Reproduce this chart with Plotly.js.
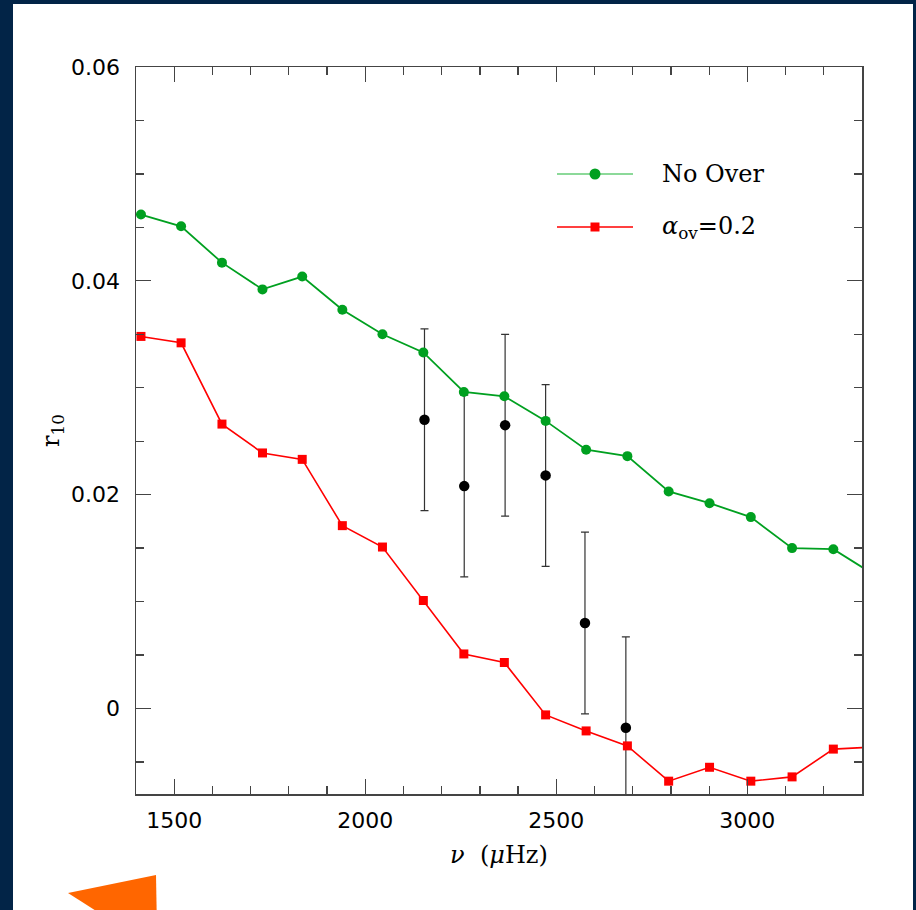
<!DOCTYPE html>
<html><head><meta charset="utf-8">
<script src="https://cdn.plot.ly/plotly-3.0.1.min.js"></script>
<style>
html,body{margin:0;padding:0;background:#022447;width:916px;height:910px;overflow:hidden}
#chart{position:absolute;left:13px;top:4px;width:900px;height:906px;background:#fff}
</style></head><body><div id="chart"></div>
<script>
// model frequencies (µHz)
const freqModel = [1413, 1518, 1625, 1731, 1835, 1940, 2045, 2152, 2258, 2364, 2472, 2578, 2686, 2794, 2901, 3009, 3117, 3225, 3332];
// r10 for the model without overshoot
const r10NoOver = [0.0462, 0.0451, 0.0417, 0.0392, 0.0404, 0.0373, 0.0350, 0.0333, 0.0296, 0.0292, 0.0269, 0.0242, 0.0236, 0.0203, 0.0192, 0.0179, 0.0150, 0.0149, 0.0125];
// r10 for the model with alpha_ov = 0.2
const r10Over02 = [0.0348, 0.0342, 0.0266, 0.0239, 0.0233, 0.0171, 0.0151, 0.0101, 0.0051, 0.0043, -0.0006, -0.0021, -0.0035, -0.0068, -0.0055, -0.0068, -0.0064, -0.0038, -0.0036];
// observed r10 with uncertainties
const freqObs = [2155, 2259, 2366, 2472, 2575, 2682];
const r10Obs = [0.0270, 0.0208, 0.0265, 0.0218, 0.0080, -0.0018];
const r10ObsErr = [0.0085, 0.0085, 0.0085, 0.0085, 0.0085, 0.0085];
const seriesNames = ['No Over', '<i>α</i><sub>ov</sub>=0.2'];
const xTitle = '<i>ν</i>  (<i>μ</i>Hz)';
const yTitle = 'r<sub>10</sub>';

const GREEN = '#00a020', RED = '#ff0000';
const W = 900, H = 906, ML = 123, MR = 51, MT = 63, MB = 116;
const PW = W - ML - MR, PH = H - MT - MB;
const px = x => (x - ML) / PW;
const py = y => (H - MB - y) / PH;

const traces = [
  {x: freqObs, y: r10Obs, type: 'scatter', mode: 'markers', showlegend: false,
   marker: {color: '#000', size: 10.5},
   error_y: {type: 'data', array: r10ObsErr, visible: true, color: '#333', thickness: 1.2, width: 4}},
  {x: freqModel, y: r10NoOver, type: 'scatter', mode: 'lines+markers', name: seriesNames[0], showlegend: false,
   line: {color: GREEN, width: 1.8}, marker: {color: GREEN, size: 10, symbol: 'circle'}},
  {x: freqModel, y: r10Over02, type: 'scatter', mode: 'lines+markers', name: seriesNames[1], showlegend: false,
   line: {color: RED, width: 1.6}, marker: {color: RED, size: 9, symbol: 'square'}}
];

const legY = [py(170), py(223)];
const legLine0 = px(544), legLine1 = px(620), legMark = px(582), legText = px(647);
const tri = [[55, 889], [143, 871], [144, 926], [113, 926]];
const triPath = 'M ' + tri.map(p => px(p[0]) + ' ' + py(p[1])).join(' L ') + ' Z';

const axisCommon = {
  showline: true, linecolor: '#444', linewidth: 1.5, mirror: 'allticks',
  ticks: 'inside', ticklen: 15, tickwidth: 1.3, tickcolor: '#444',
  showgrid: false, zeroline: false,
  tickfont: {family: 'DejaVu Sans', size: 22, color: '#000'}
};

const layout = {
  width: W, height: H,
  margin: {l: ML, r: MR, t: MT, b: MB},
  paper_bgcolor: '#fff', plot_bgcolor: '#fff',
  xaxis: Object.assign({}, axisCommon, {
    range: [1400, 3300], tick0: 1500, dtick: 500,
    minor: {dtick: 100, ticks: 'inside', ticklen: 8, tickcolor: '#444', tickwidth: 1.3},
    ticklabelstandoff: 6,
    title: {text: xTitle, font: {family: 'DejaVu Serif', size: 24, color: '#000'}, standoff: 14}
  }),
  yaxis: Object.assign({}, axisCommon, {
    range: [-0.008, 0.06], tick0: 0, dtick: 0.02,
    minor: {dtick: 0.005, ticks: 'inside', ticklen: 8, tickcolor: '#444', tickwidth: 1.3},
    ticklabelstandoff: 10,
    title: {text: yTitle, font: {family: 'DejaVu Serif', size: 24, color: '#000'}, standoff: 4}
  }),
  shapes: [
    {type: 'line', xref: 'paper', yref: 'paper', x0: legLine0, x1: legLine1, y0: legY[0], y1: legY[0], line: {color: '#66cc77', width: 1.5}},
    {type: 'circle', xref: 'paper', yref: 'paper', xsizemode: 'pixel', ysizemode: 'pixel', xanchor: legMark, yanchor: legY[0], x0: -5.5, x1: 5.5, y0: -5.5, y1: 5.5, fillcolor: GREEN, line: {width: 0}},
    {type: 'line', xref: 'paper', yref: 'paper', x0: legLine0, x1: legLine1, y0: legY[1], y1: legY[1], line: {color: RED, width: 1.3}},
    {type: 'rect', xref: 'paper', yref: 'paper', xsizemode: 'pixel', ysizemode: 'pixel', xanchor: legMark, yanchor: legY[1], x0: -4.5, x1: 4.5, y0: -4.5, y1: 4.5, fillcolor: RED, line: {width: 0}},
    {type: 'path', xref: 'paper', yref: 'paper', path: triPath, fillcolor: '#ff6600', line: {width: 0}}
  ],
  annotations: [
    {xref: 'paper', yref: 'paper', x: legText, y: legY[0], xanchor: 'left', yanchor: 'middle', showarrow: false, text: seriesNames[0], font: {family: 'DejaVu Serif', size: 24, color: '#000'}},
    {xref: 'paper', yref: 'paper', x: legText, y: legY[1], xanchor: 'left', yanchor: 'middle', showarrow: false, text: seriesNames[1], font: {family: 'DejaVu Serif', size: 24, color: '#000'}}
  ]
};

Plotly.newPlot('chart', traces, layout, {displayModeBar: false, staticPlot: true});
</script></body></html>
